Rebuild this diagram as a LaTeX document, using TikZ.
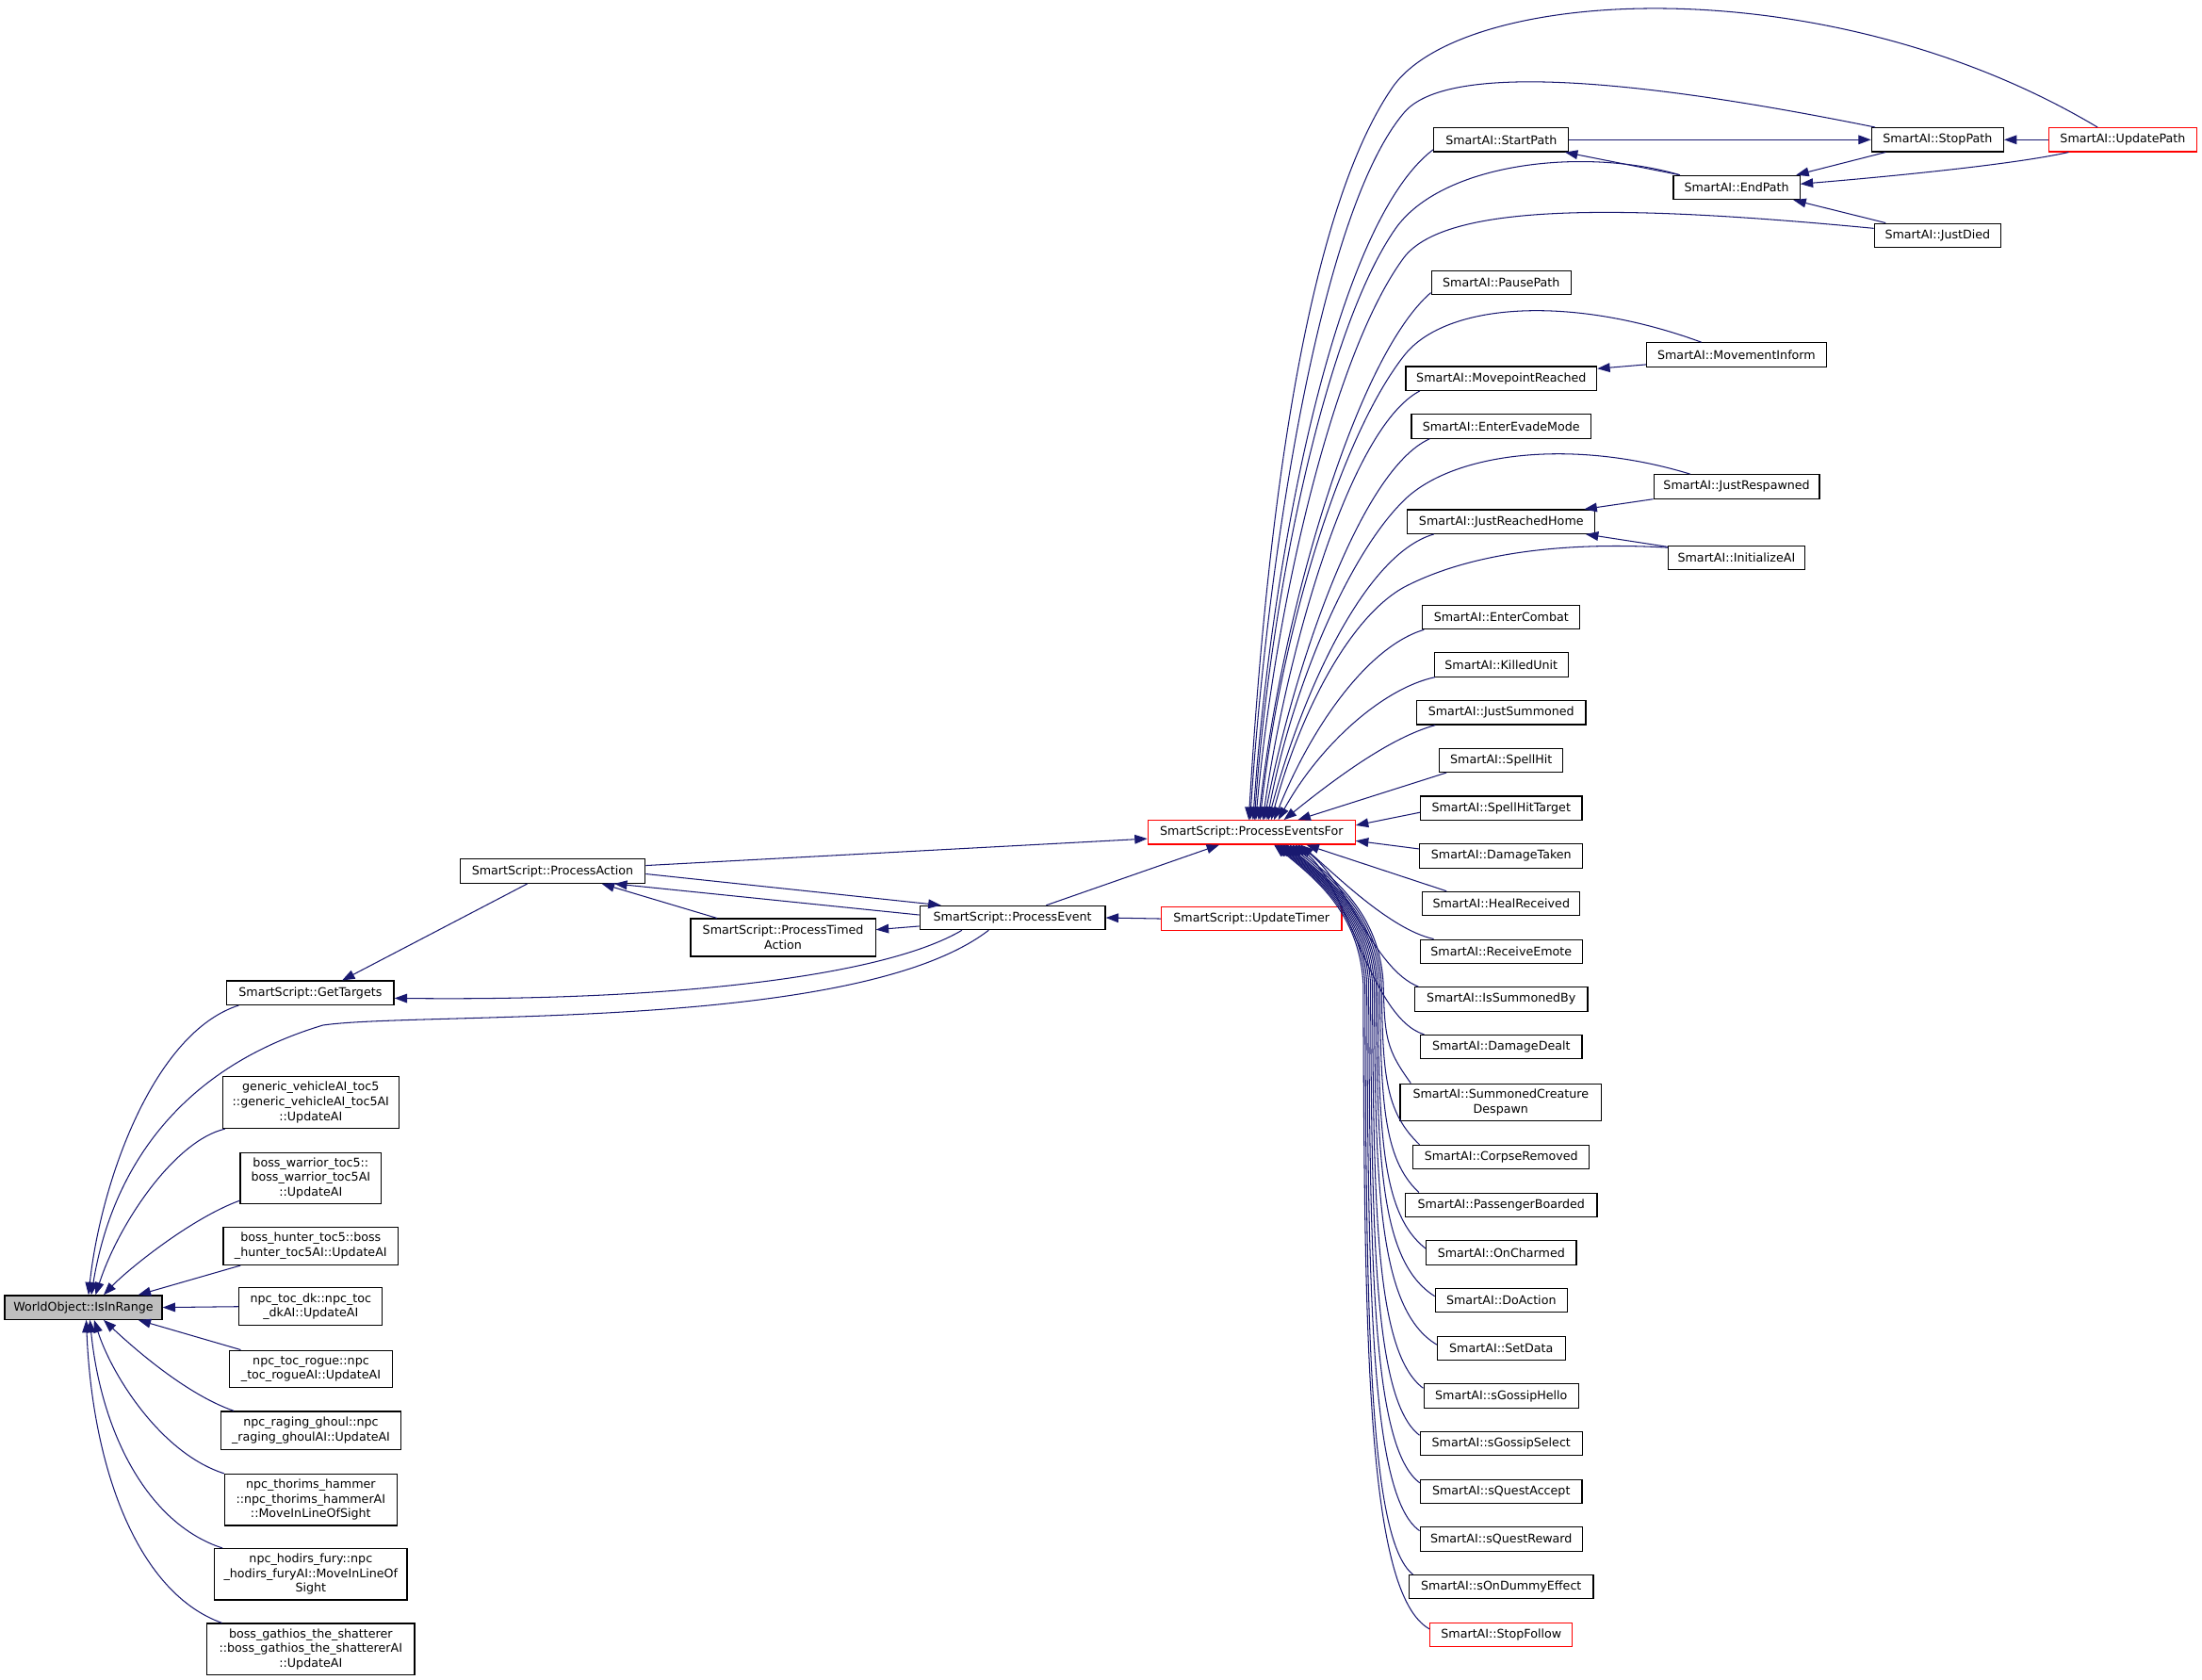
\documentclass[tikz,border=0pt]{standalone}
\usepackage{fontspec}
\setmainfont{DejaVu Sans}
\usetikzlibrary{arrows.meta}
\definecolor{edgec}{HTML}{191970}
\definecolor{rootfill}{HTML}{BFBFBF}
\tikzset{
  fn/.style={draw=black, line width=0.8pt, fill=white, inner sep=0pt, align=center, font=\fontsize{8.5}{10.5}\selectfont},
  fnred/.style={fn, draw=red},
  wh/.style 2 args={minimum width=#1pt, minimum height=#2pt},
  cedge/.style={draw=edgec, line width=0.7pt, {Triangle[length=9pt,width=6.5pt]}-}
}
\begin{document}
\begin{tikzpicture}[x=1pt,y=-1pt]
\useasboundingbox (0,0) rectangle (1568,1196);
% ---------- left column ----------
\node[fn, fill=rootfill, wh={112}{17}] (io) at (59.4,931) {WorldObject::IsInRange};
\node[fn, wh={119}{17}] (gt) at (221,707) {SmartScript::GetTargets};
\node[fn, wh={125.5}{37}] (gv) at (221.3,785) {generic\_vehicleAI\_toc5\\::generic\_vehicleAI\_toc5AI\\::UpdateAI};
\node[fn, wh={100.4}{36.5}] (bw) at (221.3,838.9) {boss\_warrior\_toc5::\\boss\_warrior\_toc5AI\\::UpdateAI};
\node[fn, wh={124.6}{27}] (bh) at (221.3,887.2) {boss\_hunter\_toc5::boss\\\_hunter\_toc5AI::UpdateAI};
\node[fn, wh={102}{27}] (dk) at (221.3,930.4) {npc\_toc\_dk::npc\_toc\\\_dkAI::UpdateAI};
\node[fn, wh={115.8}{26.5}] (ro) at (221.4,974.8) {npc\_toc\_rogue::npc\\\_toc\_rogueAI::UpdateAI};
\node[fn, wh={128.4}{27}] (rg) at (221.4,1018.5) {npc\_raging\_ghoul::npc\\\_raging\_ghoulAI::UpdateAI};
\node[fn, wh={122.8}{36.6}] (th) at (221.3,1067.9) {npc\_thorims\_hammer\\::npc\_thorims\_hammerAI\\::MoveInLineOfSight};
\node[fn, wh={137}{36.5}] (hf) at (221.3,1121) {npc\_hodirs\_fury::npc\\\_hodirs\_furyAI::MoveInLineOf\\Sight};
\node[fn, wh={147.8}{36.8}] (bg) at (221.3,1174.4) {boss\_gathios\_the\_shatterer\\::boss\_gathios\_the\_shattererAI\\::UpdateAI};
% ---------- middle ----------
\node[fn, wh={132}{17.2}] (pa) at (393.5,620.3) {SmartScript::ProcessAction};
\node[fn, wh={131.6}{26.8}] (pta) at (557.6,667.6) {SmartScript::ProcessTimed\\Action};
\node[fn, wh={132}{17}] (pe) at (721,653.5) {SmartScript::ProcessEvent};
\node[fnred, wh={128.5}{17}] (ut) at (891.2,654.2) {SmartScript::UpdateTimer};
\node[fnred, wh={147.6}{17}] (pef) at (891.2,592.7) {SmartScript::ProcessEventsFor};
% ---------- right column ----------
\node[fn, wh={96}{17}] (stp) at (1069,99.5) {SmartAI::StartPath};
\node[fn, wh={94}{17}] (sp) at (1379.7,99.5) {SmartAI::StopPath};
\node[fnred, wh={105}{17}] (up) at (1511.6,99.5) {SmartAI::UpdatePath};
\node[fn, wh={90}{17}] (ep) at (1236.6,133.5) {SmartAI::EndPath};
\node[fn, wh={90}{17}] (jd) at (1379.7,167.6) {SmartAI::JustDied};
\node[fn, wh={99.5}{17}] (pp) at (1069,201.4) {SmartAI::PausePath};
\node[fn, wh={128}{17}] (mi) at (1236.5,252.6) {SmartAI::MovementInform};
\node[fn, wh={136}{17}] (mr) at (1069,269.5) {SmartAI::MovepointReached};
\node[fn, wh={128}{17}] (ee) at (1069,303.6) {SmartAI::EnterEvadeMode};
\node[fn, wh={118}{17}] (jr) at (1236.6,346.5) {SmartAI::JustRespawned};
\node[fn, wh={133.5}{17}] (jrh) at (1069,371.5) {SmartAI::JustReachedHome};
\node[fn, wh={97}{17}] (ia) at (1236.5,397.3) {SmartAI::InitializeAI};
\node[fn, wh={112}{17}] (ec) at (1069,439.5) {SmartAI::EnterCombat};
\node[fn, wh={95.5}{17}] (ku) at (1069,473.3) {SmartAI::KilledUnit};
\node[fn, wh={120.5}{17}] (js) at (1069,507.5) {SmartAI::JustSummoned};
\node[fn, wh={88}{17}] (sh) at (1069,541.3) {SmartAI::SpellHit};
\node[fn, wh={115}{17}] (sht) at (1069,575.5) {SmartAI::SpellHitTarget};
\node[fn, wh={116}{17}] (dt) at (1069,609.5) {SmartAI::DamageTaken};
\node[fn, wh={112}{17}] (hr) at (1069,643.4) {SmartAI::HealReceived};
\node[fn, wh={115.4}{17}] (re) at (1069,677.5) {SmartAI::ReceiveEmote};
\node[fn, wh={123}{17}] (isb) at (1069,711.5) {SmartAI::IsSummonedBy};
\node[fn, wh={115}{17}] (dd) at (1069,745.5) {SmartAI::DamageDealt};
\node[fn, wh={143.4}{26.6}] (scd) at (1068.7,785) {SmartAI::SummonedCreature\\Despawn};
\node[fn, wh={125.5}{17}] (cr) at (1069,824) {SmartAI::CorpseRemoved};
\node[fn, wh={136.4}{17}] (pb) at (1069,858) {SmartAI::PassengerBoarded};
\node[fn, wh={107}{17}] (oc) at (1069,892) {SmartAI::OnCharmed};
\node[fn, wh={94}{17}] (da) at (1069,926) {SmartAI::DoAction};
\node[fn, wh={91}{17}] (sd) at (1069,960) {SmartAI::SetData};
\node[fn, wh={110.3}{17}] (gh) at (1069,994) {SmartAI::sGossipHello};
\node[fn, wh={115.6}{17}] (gs) at (1069,1028) {SmartAI::sGossipSelect};
\node[fn, wh={115}{17}] (qa) at (1069,1062) {SmartAI::sQuestAccept};
\node[fn, wh={115.6}{17}] (qr) at (1069,1096) {SmartAI::sQuestReward};
\node[fn, wh={131}{17}] (od) at (1069,1130) {SmartAI::sOnDummyEffect};
\node[fnred, wh={101.3}{17}] (sf) at (1069,1164) {SmartAI::StopFollow};
% ---------- edges into IsInRange ----------
\draw[cedge] ([xshift=3.6pt]io.north) .. controls (72,840) and (110,735) .. ([xshift=-51pt]gt.south);
\draw[cedge] ([xshift=5.6pt]io.north) .. controls (80,830) and (130,760) .. (230,730) .. controls (300,720) and (610,735) .. ([xshift=-17pt]pe.south);
\draw[cedge] ([xshift=8.6pt]io.north) .. controls (85,870) and (125,812) .. ([xshift=2pt]gv.south west);
\draw[cedge] ([xshift=14.4pt]io.north) .. controls (90,905) and (135,868) .. ([yshift=-16pt]bw.west);
\draw[cedge] ([xshift=39pt]io.north) -- ([xshift=-50pt]bh.south);
\draw[cedge] (io.east) -- (dk.west);
\draw[cedge] ([xshift=39pt]io.south) -- ([xshift=-50pt]ro.north);
\draw[cedge] ([xshift=14.4pt]io.south) .. controls (90,955) and (130,992) .. ([xshift=-55pt]rg.north);
\draw[cedge] ([xshift=7.6pt]io.south) .. controls (80,980) and (115,1035) .. (th.north west);
\draw[cedge] ([xshift=4.6pt]io.south) .. controls (72,1020) and (105,1085) .. ([xshift=6pt]hf.north west);
\draw[cedge] ([xshift=2pt]io.south) .. controls (66,1050) and (100,1135) .. ([xshift=11pt]bg.north west);
% ---------- middle edges ----------
\draw[cedge] ([xshift=22.6pt]gt.north) -- ([xshift=-18pt]pa.south);
\draw[cedge] ([yshift=-3.8pt]gt.east) .. controls (480,713) and (630,695) .. ([xshift=-36pt]pe.south);
\draw[cedge] ([xshift=35pt]pa.south) -- ([xshift=-47pt]pta.north);
\draw[cedge] ([xshift=44pt]pa.south) -- ([yshift=2pt]pe.west);
\draw[cedge] ([xshift=-51pt]pe.north) -- ([yshift=-2pt]pa.east);
\draw[cedge] ([yshift=5.6pt]pta.east) -- ([yshift=-6pt]pe.west);
\draw[cedge] ([yshift=-4.5pt]pef.west) -- ([yshift=4pt]pa.east);
\draw[cedge] ([xshift=-23pt]pef.south) -- ([xshift=24pt]pe.north);
\draw[cedge] (pe.east) -- (ut.west);
% ---------- far right ----------
\draw[cedge] (sp.west) -- (stp.east);
\draw[cedge] (sp.east) -- (up.west);
\draw[cedge] ([xshift=-3pt]stp.south east) -- ([xshift=5pt]ep.north west);
\draw[cedge] ([xshift=-3pt]ep.north east) -- ([xshift=-37pt]sp.south);
\draw[cedge] ([yshift=2.5pt]ep.east) .. controls (1330,127) and (1430,118) .. ([xshift=-38.6pt]up.south);
\draw[cedge] ([xshift=-5pt]ep.south east) -- ([xshift=-37pt]jd.north);
\draw[cedge] ([yshift=7pt]mr.east) -- ([yshift=-7pt]mi.west);
\draw[cedge] ([xshift=-8pt]jrh.north east) -- (jr.south west);
\draw[cedge] ([xshift=-7pt]jrh.south east) -- ([yshift=-1pt]ia.north west);
% ---------- ProcessEventsFor fan (top) ----------
\draw[cedge] ([xshift=-2pt]pef.north) .. controls (900,400) and (925,160) .. (991,63) .. controls (1040,-10) and (1300,-25) .. ([xshift=-18pt]up.north);
\draw[cedge] ([xshift=-1pt]pef.north) .. controls (902,400) and (940,150) .. (1000,80) .. controls (1030,45) and (1160,55) .. ([xshift=-44.5pt]sp.north);
\draw[cedge] ([xshift=1pt]pef.north) .. controls (905,400) and (950,160) .. ([yshift=-7pt]stp.west);
\draw[cedge] ([xshift=2pt]pef.north) .. controls (905,420) and (945,230) .. (995,161) .. controls (1030,115) and (1130,105) .. ([xshift=5pt]ep.north west);
\draw[cedge] ([xshift=3pt]pef.north) .. controls (908,430) and (950,250) .. (1000,183) .. controls (1030,145) and (1150,145) .. ([yshift=5pt]jd.west);
\draw[cedge] ([xshift=5pt]pef.north) .. controls (912,440) and (965,255) .. ([yshift=-7pt]pp.west);
\draw[cedge] ([xshift=6pt]pef.north) .. controls (912,450) and (955,310) .. (1000,253) .. controls (1030,215) and (1120,210) .. ([xshift=-25pt]mi.north);
\draw[cedge] ([xshift=8pt]pef.north) .. controls (915,470) and (960,305) .. ([xshift=-58pt]mr.south);
\draw[cedge] ([xshift=9pt]pef.north) .. controls (920,480) and (968,335) .. ([xshift=-51pt]ee.south);
\draw[cedge] ([xshift=11pt]pef.north) .. controls (920,490) and (960,395) .. (1000,356) .. controls (1035,322) and (1120,312) .. ([xshift=-33pt]jr.north);
\draw[cedge] ([xshift=12pt]pef.north) .. controls (925,500) and (970,395) .. ([xshift=-48pt]jrh.south);
\draw[cedge] ([xshift=14pt]pef.north) .. controls (925,510) and (960,440) .. (1000,418) .. controls (1050,392) and (1120,386) .. ([yshift=-1.5pt]ia.north west);
\draw[cedge] ([xshift=16pt]pef.north) .. controls (935,515) and (975,460) .. ([xshift=-55pt]ec.south);
\draw[cedge] ([xshift=19pt]pef.north) .. controls (940,530) and (985,490) .. ([xshift=1pt]ku.south west);
\draw[cedge] ([xshift=23pt]pef.north) .. controls (950,555) and (990,525) .. ([xshift=-47pt]js.south);
\draw[cedge] ([xshift=33pt]pef.north) -- ([xshift=-39pt]sh.south);
\draw[cedge] ([yshift=5pt]pef.east) -- ([yshift=-3pt]sht.west);
\draw[cedge] ([yshift=-6pt]pef.east) -- ([yshift=5pt]dt.west);
% ---------- ProcessEventsFor fan (bottom) ----------
\draw[cedge] ([xshift=39pt]pef.south) -- ([xshift=-39pt]hr.north);
\draw[cedge] ([xshift=35pt]pef.south) .. controls (950,622) and (990,662) .. ([xshift=10pt]re.north west);
\draw[cedge] ([xshift=33pt]pef.south) .. controls (960,628) and (978,690) .. ([xshift=3pt]isb.north west);
\draw[cedge] ([xshift=31pt]pef.south) .. controls (960,630) and (976,725) .. ([xshift=3pt]dd.north west);
\draw[cedge] ([xshift=29pt]pef.south) .. controls (950,626) and (982,650) .. (985,700) .. controls (986,739) and (987,747) .. ([xshift=8pt]scd.north west);
\draw[cedge] ([xshift=27pt]pef.south) .. controls (948,626) and (980.7,650) .. (983.7,700) .. controls (984.7,764) and (985.7,791) .. ([xshift=5pt]cr.north west);
\draw[cedge] ([xshift=25pt]pef.south) .. controls (946,626) and (979.4,650) .. (982.4,700) .. controls (983.4,782) and (984.4,825) .. ([xshift=10pt]pb.north west);
\draw[cedge] ([xshift=24pt]pef.south) .. controls (945,626) and (978,650) .. (981,700) .. controls (982,804) and (983,864) .. ([yshift=3pt]oc.west);
\draw[cedge] ([xshift=23pt]pef.south) .. controls (944,626) and (976.8,650) .. (979.8,700) .. controls (980.8,823) and (981.8,898) .. ([yshift=3pt]da.west);
\draw[cedge] ([xshift=22pt]pef.south) .. controls (943,626) and (975.5,650) .. (978.5,700) .. controls (979.5,842) and (980.5,932) .. ([yshift=2.5pt]sd.west);
\draw[cedge] ([xshift=21pt]pef.south) .. controls (942,626) and (974.2,650) .. (977.2,700) .. controls (978.2,859) and (979.2,963) .. ([yshift=5.5pt]gh.west);
\draw[cedge] ([xshift=20pt]pef.south) .. controls (941,626) and (972.9,650) .. (975.9,700) .. controls (976.9,877) and (977.9,997) .. ([yshift=6pt]gs.west);
\draw[cedge] ([xshift=19pt]pef.south) .. controls (940,626) and (971.6,650) .. (974.6,700) .. controls (975.6,896) and (976.6,1031) .. ([yshift=6pt]qa.west);
\draw[cedge] ([xshift=18pt]pef.south) .. controls (939,626) and (970.3,650) .. (973.3,700) .. controls (974.3,915) and (975.3,1065) .. ([yshift=6pt]qr.west);
\draw[cedge] ([xshift=17pt]pef.south) .. controls (938,626) and (969,650) .. (972,700) .. controls (973,932) and (974,1096) .. ([xshift=3pt]od.north west);
\draw[cedge] ([xshift=16pt]pef.south) .. controls (937,626) and (967.7,650) .. (970.7,700) .. controls (971.7,953) and (972.7,1135) .. ([yshift=4pt]sf.west);
\end{tikzpicture}
\end{document}
